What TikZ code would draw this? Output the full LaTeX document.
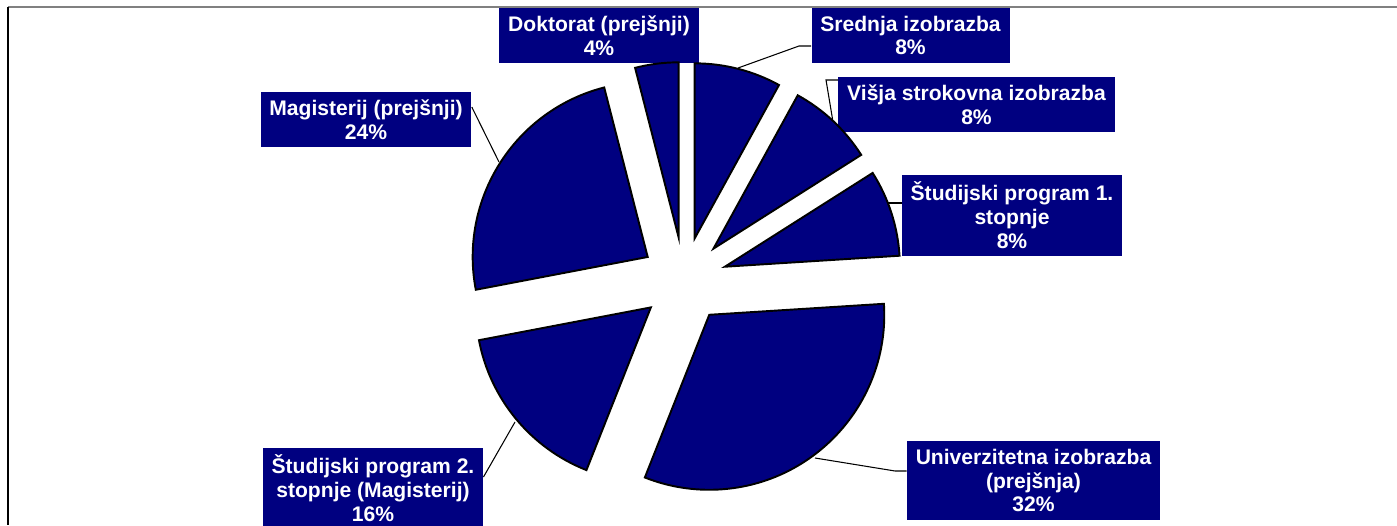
\documentclass[tikz,border=0pt]{standalone}
\usepackage{fontspec}
\setmainfont{Liberation Sans}
\definecolor{navy}{HTML}{000080}

\tikzset{
  slice/.style={fill=navy, draw=black, line width=1.1pt, line join=miter},
  lbl/.style={fill=navy, text=white, align=center, inner xsep=5pt, inner ysep=4.2pt,
              font=\bfseries\fontsize{12}{13.6}\selectfont},
  leader/.style={draw=black, line width=0.6pt}
}

\begin{document}
\begin{tikzpicture}[x=0.02cm, y=0.02cm]
  \useasboundingbox (0,0) rectangle (1397,525);
  % chart frame
  \draw[gray, line width=0.9pt] (8,518) -- (1397,518);
  \draw[black, line width=0.6pt] (8,518) -- (8,0);

  % labels
  \node[lbl] (dokt) at (599,489.5) {Doktorat (prejšnji)\\4\%};
  \node[lbl] (sred) at (910.5,489.5) {Srednja izobrazba\\8\%};
  \node[lbl] (visj) at (976.5,420.5) {Višja strokovna izobrazba\\8\%};
  \node[lbl] (stp1) at (1012,309.5) {Študijski program 1.\\stopnje\\8\%};
  \node[lbl] (univ) at (1033.5,44.5) {Univerzitetna izobrazba\\(prejšnja)\\32\%};
  \node[lbl] (magi) at (366,405.5) {Magisterij (prejšnji)\\24\%};
  \node[lbl] (stp2) at (373,36.5) {Študijski program 2.\\stopnje (Magisterij)\\16\%};

  % leader lines
  \coordinate (sredtip) at (738,457);  \coordinate (sredbend) at (799,479);
  \coordinate (visjtip) at (833,403);  \coordinate (visjbend) at (826,445);
  \coordinate (stp1tip) at (888,322);
  \coordinate (magitip) at (499,363);  \coordinate (magiknee) at (472,418);
  \coordinate (stp2tip) at (515,103);  \coordinate (stp2knee) at (483,48);
  \coordinate (univtip) at (815,67);   \coordinate (univbend) at (895,54);
  \draw[leader] (sredtip) -- (sredbend) -- (sredbend -| sred.west);
  \draw[leader] (visjtip) -- (visjbend) -- (visjbend -| visj.west);
  \draw[leader] (stp1tip) -- (stp1tip -| stp1.west);
  \draw[leader] (magitip) -- (magiknee -| magi.east);
  \draw[leader] (stp2tip) -- (stp2knee -| stp2.east);
  \draw[leader] (univtip) -- (univbend) -- (univbend -| univ.west);

  % exploded pie, clockwise from the top
  \begin{scope}[shift={(684,245)}]
    \foreach \a/\b in {90/61.2, 61.2/32.4, 32.4/3.6, 3.6/-111.6,
                       -111.6/-169.2, -169.2/-255.6, -255.6/-270}
      \draw[slice, shift={({(\a+\b)/2}:43)}]
        (0,0) -- (\a:175) arc[start angle=\a, end angle=\b, radius=175] -- cycle;
  \end{scope}
\end{tikzpicture}
\end{document}
